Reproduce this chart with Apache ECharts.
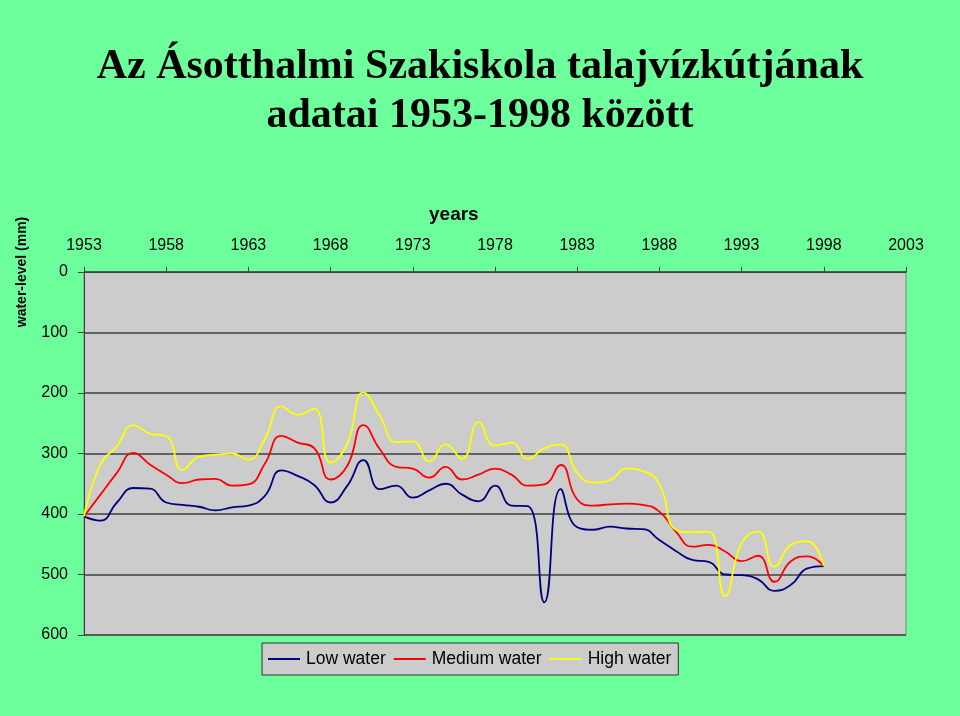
<!DOCTYPE html>
<html>
<head>
<meta charset="utf-8">
<script src="https://cdn.jsdelivr.net/npm/echarts@6/dist/echarts.min.js"></script>
<style>
html,body{margin:0;padding:0;background:#6cff9c;}
#chart{width:960px;height:716px;}
</style>
</head>
<body>
<div id="chart"></div>
<script>
const years = [1953,1954,1955,1956,1957,1958,1959,1960,1961,1962,1963,1964,1965,1966,1967,1968,1969,1970,1971,1972,1973,1974,1975,1976,1977,1978,1979,1980,1981,1982,1983,1984,1985,1986,1987,1988,1989,1990,1991,1992,1993,1994,1995,1996,1997,1998];
const lowWater = [404,411,381,357,358,381,385,388,394,389,386,370,328,337,352,381,354,311,359,353,373,361,350,368,379,353,386,387,546,359,422,426,421,424,425,443,461,476,479,500,501,508,527,517,490,486];
const mediumWater = [404,368,332,299,318,335,349,343,342,353,351,317,271,282,291,343,321,253,293,322,325,340,322,343,335,325,335,353,351,319,376,386,384,383,385,396,429,454,451,462,478,469,512,478,470,486];
const highWater = [404,318,288,253,267,271,327,305,302,300,310,276,222,236,226,315,285,199,238,281,280,313,285,309,248,287,282,309,291,285,332,348,344,325,329,351,426,430,429,536,448,429,487,451,445,486];
const xTicks = {min:1953, max:2003, step:5};
const yTicks = {min:0, max:600, step:100};

const pair = arr => years.map((y,i)=>[y,arr[i]]);
const chart = echarts.init(document.getElementById('chart'));
chart.setOption({
  backgroundColor:'#6cff9c',
  animation:false,
  title:{
    text:'Az Ásotthalmi Szakiskola talajvízkútjának\nadatai 1953-1998 között',
    left:'center', top:38,
    textStyle:{fontFamily:'Liberation Serif', fontWeight:'bold', fontSize:42, lineHeight:49, color:'#000'}
  },
  graphic:[
    {type:'text', left:429, top:205, style:{text:'years', font:'bold 19px "Liberation Sans"', fill:'#000'}},
    {type:'text', x:22, y:272, rotation:Math.PI/2, style:{text:'water-level (mm)', font:'bold 14px "Liberation Sans"', fill:'#000', align:'center', verticalAlign:'middle'}}
  ],
  legend:{
    top:643, left:262, icon:'rect', itemWidth:32, itemHeight:2, itemGap:8,
    padding:[7,7,7,6],
    backgroundColor:'#cccccc', borderColor:'#333', borderWidth:1,
    textStyle:{fontFamily:'Liberation Sans', fontSize:17.5, color:'#000', padding:[0,0,0,1]},
    data:['Low water','Medium water','High water']
  },
  grid:{left:84, top:272, right:54, bottom:81, show:true, backgroundColor:'#cccccc', borderColor:'#808080', borderWidth:1},
  xAxis:{
    type:'value', position:'top', min:xTicks.min, max:xTicks.max, interval:xTicks.step,
    axisLine:{show:true, lineStyle:{color:'#404040', width:1}},
    axisTick:{show:true, length:5, lineStyle:{color:'#404040'}},
    axisLabel:{fontFamily:'Liberation Sans', fontSize:16, color:'#000', margin:18, formatter:v=>String(v)},
    splitLine:{show:false}
  },
  yAxis:{
    type:'value', inverse:true, min:yTicks.min, max:yTicks.max, interval:yTicks.step,
    axisLine:{show:true, lineStyle:{color:'#404040', width:1}},
    axisTick:{show:true, length:6, lineStyle:{color:'#404040'}},
    axisLabel:{fontFamily:'Liberation Sans', fontSize:16, color:'#000', margin:16},
    splitLine:{show:true, lineStyle:{color:'#404040', width:1.5}}
  },
  series:[
    {name:'Low water', type:'line', data:pair(lowWater), smooth:0.5, symbol:'none', lineStyle:{color:'#000080', width:1.8}, itemStyle:{color:'#000080'}},
    {name:'Medium water', type:'line', data:pair(mediumWater), smooth:0.5, symbol:'none', lineStyle:{color:'#ff0000', width:1.8}, itemStyle:{color:'#ff0000'}},
    {name:'High water', type:'line', data:pair(highWater), smooth:0.5, symbol:'none', lineStyle:{color:'#ffff00', width:1.8}, itemStyle:{color:'#ffff00'}}
  ]
});
</script>
</body>
</html>
